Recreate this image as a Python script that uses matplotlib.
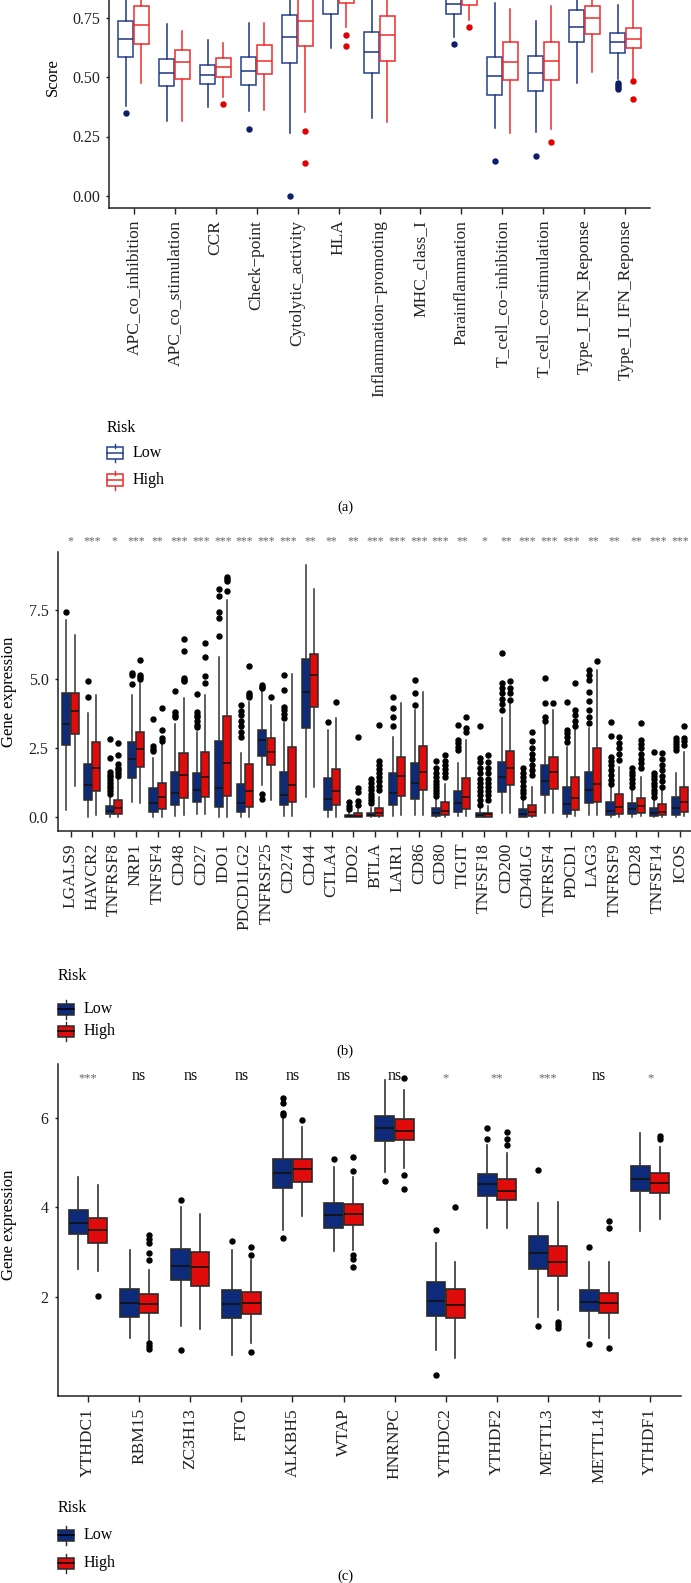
import matplotlib
matplotlib.use("Agg")
import matplotlib.pyplot as plt
from matplotlib.patches import Rectangle
from matplotlib.lines import Line2D

plt.rcParams['font.family'] = ['Liberation Serif', 'DejaVu Serif']

W, H = 691, 1583

# ---------------- panel (a): immune function scores ----------------
a_cats = ["APC_co_inhibition", "APC_co_stimulation", "CCR", "Check\u2212point",
          "Cytolytic_activity", "HLA", "Inflammation\u2212promoting", "MHC_class_I",
          "Parainflammation", "T_cell_co\u2212inhibition", "T_cell_co\u2212stimulation",
          "Type_I_IFN_Reponse", "Type_II_IFN_Reponse"]
a_low_whislo = [0.378, 0.315, 0.373, 0.358, 0.263, 0.620, 0.326, 0.86, 0.669, 0.287, 0.268, 0.476, 0.492]
a_low_q1 = [0.583, 0.462, 0.469, 0.466, 0.560, 0.765, 0.516, 0.91, 0.763, 0.426, 0.441, 0.647, 0.599]
a_low_med = [0.661, 0.518, 0.510, 0.527, 0.669, 0.850, 0.606, 0.94, 0.807, 0.504, 0.518, 0.709, 0.646]
a_low_q3 = [0.737, 0.574, 0.550, 0.585, 0.760, 0.900, 0.688, 0.96, 0.850, 0.583, 0.588, 0.782, 0.683]
a_low_whishi = [0.950, 0.721, 0.655, 0.726, 1.000, 0.990, 0.930, 0.99, 0.950, 0.810, 0.737, 0.970, 0.802]
a_low_fliers = [[0.35], [], [], [0.28], [0.0], [], [], [], [0.639], [0.147], [0.169], [],
                [0.474, 0.465, 0.458, 0.45]]
a_high_whislo = [0.476, 0.315, 0.417, 0.361, 0.354, 0.711, 0.312, 0.87, 0.739, 0.263, 0.280, 0.522, 0.494]
a_high_q1 = [0.637, 0.490, 0.501, 0.511, 0.631, 0.810, 0.569, 0.92, 0.803, 0.487, 0.487, 0.681, 0.620]
a_high_med = [0.720, 0.563, 0.543, 0.567, 0.737, 0.880, 0.678, 0.95, 0.850, 0.564, 0.567, 0.747, 0.661]
a_high_q3 = [0.800, 0.613, 0.579, 0.634, 0.850, 0.930, 0.758, 0.97, 0.890, 0.648, 0.646, 0.800, 0.707]
a_high_whishi = [0.980, 0.693, 0.641, 0.726, 1.000, 1.000, 0.980, 1.00, 0.970, 0.784, 0.800, 0.950, 0.860]
a_high_fliers = [[], [], [0.385], [], [0.272, 0.139], [0.676, 0.631], [], [], [0.711], [],
                 [0.227], [], [0.484, 0.408]]

# ---------------- panel (b): immune checkpoint genes ----------------
b_genes = ["LGALS9", "HAVCR2", "TNFRSF8", "NRP1", "TNFSF4", "CD48", "CD27", "IDO1",
           "PDCD1LG2", "TNFRSF25", "CD274", "CD44", "CTLA4", "IDO2", "BTLA", "LAIR1",
           "CD86", "CD80", "TIGIT", "TNFSF18", "CD200", "CD40LG", "TNFRSF4", "PDCD1",
           "LAG3", "TNFRSF9", "CD28", "TNFSF14", "ICOS"]
b_signif = ["*", "***", "*", "***", "**", "***", "***", "***", "***", "***", "***", "**",
            "**", "**", "***", "***", "***", "***", "**", "*", "**", "***", "***", "***",
            "**", "**", "**", "***", "***"]
b_low_whislo = [0.27, 0.02, 0.02, 0.57, 0.02, 0.05, 0.12, 0.02, 0.02, 1.16, 0.05, 0.72, 0.02, 0.0,
                0.0, 0.05, 0.08, 0.0, 0.05, 0.0, 0.15, 0.0, 0.15, 0.02, 0.08, 0.0, 0.02, 0.0, 0.02]
b_low_q1 = [2.62, 0.63, 0.12, 1.41, 0.20, 0.45, 0.56, 0.39, 0.20, 2.23, 0.45, 3.25, 0.27, 0.01,
            0.04, 0.45, 0.68, 0.05, 0.20, 0.02, 0.91, 0.02, 0.81, 0.12, 0.51, 0.08, 0.11, 0.05, 0.10]
b_low_med = [3.38, 1.17, 0.23, 2.10, 0.50, 0.87, 0.99, 1.07, 0.53, 2.80, 0.81, 4.55, 0.68, 0.03,
             0.10, 0.87, 1.26, 0.17, 0.53, 0.08, 1.45, 0.12, 1.33, 0.47, 0.99, 0.24, 0.29, 0.17, 0.33]
b_low_q3 = [4.52, 1.93, 0.42, 2.74, 1.07, 1.65, 1.62, 2.77, 1.21, 3.16, 1.65, 5.72, 1.44, 0.10,
            0.17, 1.59, 1.98, 0.35, 0.95, 0.14, 2.02, 0.29, 1.90, 1.11, 1.63, 0.54, 0.51, 0.33, 0.72]
b_low_whishi = [7.15, 3.79, 0.75, 4.43, 2.14, 3.37, 3.10, 5.82, 2.34, 4.61, 3.41, 9.14, 3.16, 0.20,
                0.35, 2.90, 3.89, 0.70, 1.96, 0.30, 3.61, 0.65, 3.37, 2.54, 3.22, 1.10, 1.05, 0.70, 1.60]
b_low_fliers = [[7.42], [4.34, 4.92],
                [0.85, 0.95, 1.05, 1.15, 1.25, 1.35, 1.45, 1.55, 1.65, 2.14, 2.83],
                [4.82, 5.15, 5.24], [2.40, 2.48, 2.58, 3.55], [3.62, 3.70, 3.83, 4.58],
                [3.28, 3.35, 3.50, 3.62, 3.72, 3.83, 4.46], [6.57, 7.21, 7.42, 8.02, 8.26],
                [2.92, 3.10, 3.30, 3.50, 3.70, 3.85, 4.07], [4.67, 4.73, 4.80, 0.85, 0.65],
                [3.59, 3.75, 3.90, 4.00, 4.61, 5.16], [], [3.44], [0.30, 0.42, 0.55],
                [0.50, 0.62, 0.74, 0.86, 0.98, 1.10, 1.25, 1.40], [3.32, 3.65, 3.95, 4.34],
                [4.07, 4.49, 4.98],
                [0.78, 0.88, 0.98, 1.08, 1.20, 1.32, 1.45, 1.60, 1.80, 2.05],
                [2.44, 2.56, 2.68, 2.80, 3.35],
                [0.45, 0.63, 0.80, 0.95, 1.10, 1.25, 1.40, 1.60, 1.80, 2.00, 2.14, 3.29],
                [3.89, 4.10, 4.30, 4.50, 4.70, 4.86, 5.94],
                [0.75, 0.88, 1.00, 1.15, 1.30, 1.45, 1.60, 1.80], [3.50, 3.65, 4.15, 5.04],
                [2.72, 2.90, 3.05, 3.16, 4.17], [3.41, 3.65, 3.89, 4.20, 4.55, 4.98, 5.16, 5.34],
                [1.20, 1.35, 1.53, 1.70, 1.90, 2.05, 2.20, 2.96, 3.47],
                [1.11, 1.25, 1.40, 1.55, 1.65, 1.78],
                [0.75, 0.88, 1.00, 1.12, 1.25, 1.38, 1.50, 1.59, 2.38],
                [2.44, 2.55, 2.65, 2.75, 2.86]]
b_high_whislo = [1.13, 0.08, 0.02, 0.50, 0.02, 0.08, 0.12, 0.02, 0.02, 0.63, 0.05, 1.09, 0.02, 0.0,
                 0.0, 0.08, 0.08, 0.0, 0.05, 0.0, 0.15, 0.0, 0.17, 0.05, 0.08, 0.02, 0.05, 0.0, 0.05]
b_high_q1 = [3.02, 0.95, 0.12, 1.84, 0.30, 0.69, 0.75, 0.77, 0.36, 1.90, 0.57, 3.99, 0.45, 0.02,
             0.05, 0.77, 0.99, 0.08, 0.30, 0.02, 1.17, 0.06, 1.01, 0.27, 0.57, 0.12, 0.17, 0.07, 0.18]
b_high_med = [3.84, 1.80, 0.35, 2.46, 0.72, 1.53, 1.45, 1.98, 0.97, 2.37, 1.16, 5.17, 0.97, 0.05,
              0.14, 1.51, 1.65, 0.23, 0.72, 0.12, 1.78, 0.20, 1.64, 0.69, 1.21, 0.36, 0.42, 0.19, 0.54]
b_high_q3 = [4.52, 2.74, 0.63, 3.10, 1.23, 2.32, 2.38, 3.68, 1.93, 2.86, 2.56, 5.92, 1.74, 0.14,
             0.35, 2.20, 2.58, 0.54, 1.41, 0.17, 2.40, 0.45, 2.20, 1.47, 2.50, 0.83, 0.69, 0.47, 1.09]
b_high_whishi = [6.60, 4.43, 1.40, 4.86, 2.70, 4.31, 4.43, 7.87, 4.19, 4.07, 5.18, 8.27, 3.59, 0.30,
                 0.75, 4.15, 4.55, 1.20, 2.80, 0.40, 4.20, 1.10, 3.89, 3.22, 5.34, 1.84, 1.45, 1.00, 2.38]
b_high_fliers = [[], [], [1.50, 1.60, 1.70, 1.80, 1.93, 2.26, 2.68], [5.00, 5.10, 5.16, 5.70],
                 [2.78, 2.86, 3.16, 3.95], [4.92, 4.98, 5.04, 6.03, 6.45], [4.86, 5.12, 5.82, 6.30],
                 [8.21, 8.55, 8.65, 8.72], [4.37, 4.43, 4.49, 5.48], [4.35], [], [], [4.19],
                 [0.45, 0.60, 0.90, 1.05, 2.90],
                 [0.99, 1.15, 1.30, 1.45, 1.60, 1.75, 1.90, 2.05, 3.35], [], [],
                 [1.47, 1.60, 1.75, 1.90, 2.05, 2.26], [3.10, 3.22, 3.65],
                 [0.63, 0.80, 0.95, 1.10, 1.25, 1.40, 1.60, 1.80, 2.00, 2.26],
                 [4.25, 4.50, 4.70, 4.92], [1.53, 1.70, 1.90, 2.10, 2.30, 2.50, 2.75, 3.10],
                 [4.15], [3.31, 3.50, 3.70, 3.89, 4.88], [5.68], [2.08, 2.30, 2.50, 2.70, 2.92],
                 [1.78, 1.95, 2.10, 2.30, 2.50, 2.65, 2.80, 3.41],
                 [1.11, 1.30, 1.50, 1.70, 1.90, 2.10, 2.32], [2.62, 2.75, 2.86, 3.29]]

# ---------------- panel (c): m6A regulators ----------------
c_genes = ["YTHDC1", "RBM15", "ZC3H13", "FTO", "ALKBH5", "WTAP", "HNRNPC", "YTHDC2",
           "YTHDF2", "METTL3", "METTL14", "YTHDF1"]
c_signif = ["***", "ns", "ns", "ns", "ns", "ns", "ns", "*", "**", "***", "ns", "*"]
c_low_whislo = [2.63, 1.09, 1.37, 0.71, 3.50, 3.04, 4.80, 0.83, 3.54, 1.57, 1.09, 3.48]
c_low_q1 = [3.40, 1.57, 2.38, 1.55, 4.44, 3.55, 5.49, 1.59, 4.26, 2.63, 1.70, 4.37]
c_low_med = [3.66, 1.88, 2.70, 1.84, 4.76, 3.83, 5.76, 1.92, 4.52, 2.98, 1.90, 4.63]
c_low_q3 = [3.94, 2.18, 3.07, 2.16, 5.09, 4.11, 6.04, 2.33, 4.75, 3.37, 2.16, 4.93]
c_low_whishi = [4.67, 3.05, 4.02, 3.05, 5.99, 4.91, 6.84, 3.22, 5.39, 4.11, 2.79, 5.67]
c_low_fliers = [[], [], [4.17, 0.83], [3.25], [6.43, 6.32, 6.10, 6.06, 3.33], [5.08],
                [4.59], [3.51, 0.28], [5.78, 5.52], [4.83, 1.37], [3.11, 0.97], []]
c_high_whislo = [2.58, 1.05, 1.29, 0.99, 3.81, 3.05, 4.87, 0.64, 3.55, 1.72, 1.09, 3.74]
c_high_q1 = [3.22, 1.64, 2.26, 1.62, 4.57, 3.62, 5.50, 1.53, 4.17, 2.47, 1.64, 4.33]
c_high_med = [3.50, 1.84, 2.68, 1.88, 4.85, 3.85, 5.71, 1.83, 4.37, 2.79, 1.88, 4.54]
c_high_q3 = [3.77, 2.07, 3.02, 2.12, 5.09, 4.07, 5.97, 2.18, 4.63, 3.14, 2.10, 4.76]
c_high_whishi = [4.50, 2.61, 3.85, 2.83, 5.80, 4.69, 6.62, 2.79, 5.21, 4.13, 2.78, 5.34]
c_high_fliers = [[2.04], [3.39, 3.30, 3.22, 2.99, 2.83, 0.99, 0.92, 0.85], [], [3.13, 2.94, 0.79],
                 [5.95], [5.13, 4.81, 2.94, 2.85, 2.68], [6.88, 4.72, 4.41], [4.00],
                 [5.69, 5.52, 5.39], [1.46, 1.38, 1.31], [3.71, 3.54, 0.88], [5.59, 5.52]]


def make_stats(whislo, q1, med, q3, whishi, fliers):
    return [dict(whislo=a, q1=b, med=c, q3=d, whishi=e, fliers=f)
            for a, b, c, d, e, f in zip(whislo, q1, med, q3, whishi, fliers)]


def ax_rect(left_px, right_px, bottom_px, top_px):
    return [left_px / W, 1 - bottom_px / H, (right_px - left_px) / W, (bottom_px - top_px) / H]


def style_axis(ax, xlabels, xfs, yfs):
    for s in ("top", "right"):
        ax.spines[s].set_visible(False)
    for s in ("left", "bottom"):
        ax.spines[s].set_linewidth(1.1)
        ax.spines[s].set_color("#222222")
    ax.set_xticks(range(1, len(xlabels) + 1))
    ax.set_xticklabels(xlabels, rotation=90, fontsize=xfs, va="top", ha="center")
    ax.tick_params(axis="x", length=4.5, width=1.0, pad=4, colors="#222222")
    ax.tick_params(axis="y", length=2.5, width=1.0, pad=4, labelsize=yfs, colors="#222222")


def draw_boxes(ax, stats, pos, face, edge, whisk, med_c, flier_c, lw):
    ax.bxp(stats, positions=pos, widths=0.37, patch_artist=True, showcaps=False,
           boxprops=dict(facecolor=face, edgecolor=edge, linewidth=lw),
           medianprops=dict(color=med_c, linewidth=lw),
           whiskerprops=dict(color=whisk, linewidth=lw),
           flierprops=dict(marker="o", markerfacecolor=flier_c, markeredgecolor=flier_c,
                           markersize=3.6, linestyle="none"))


def legend(fig, x, y_title, y_low, y_high, low_face, low_edge, high_face, high_edge, med_low, med_high):
    fig.text(x / W, 1 - y_title / H, "Risk", fontsize=11.5, ha="left", va="center")
    for yy, face, edge, mc, lab in ((y_low, low_face, low_edge, med_low, "Low"),
                                    (y_high, high_face, high_edge, med_high, "High")):
        bw, bh = 16, 11
        fig.add_artist(Rectangle((x / W, 1 - (yy + bh / 2) / H), bw / W, bh / H,
                                 transform=fig.transFigure, facecolor=face, edgecolor=edge, lw=1.1))
        fig.add_artist(Line2D([x / W, (x + bw) / W], [1 - yy / H, 1 - yy / H],
                              transform=fig.transFigure, color=mc, lw=1.1))
        cx = (x + bw / 2) / W
        fig.add_artist(Line2D([cx, cx], [1 - (yy - bh / 2) / H, 1 - (yy - bh / 2 - 4) / H],
                              transform=fig.transFigure, color=edge, lw=1.0))
        fig.add_artist(Line2D([cx, cx], [1 - (yy + bh / 2) / H, 1 - (yy + bh / 2 + 4) / H],
                              transform=fig.transFigure, color=edge, lw=1.0))
        fig.text((x + bw + 10) / W, 1 - yy / H, lab, fontsize=11.5, ha="left", va="center")


fig = plt.figure(figsize=(W / 100, H / 100), dpi=100)

# ----- (a) -----
axa = fig.add_axes(ax_rect(109, 650, 207.9, -53.9))
na = len(a_cats)
pos = list(range(1, na + 1))
draw_boxes(axa, make_stats(a_low_whislo, a_low_q1, a_low_med, a_low_q3, a_low_whishi, a_low_fliers),
           [p - 0.19 for p in pos], "white", "#24408E", "#1E3580", "#1E3580", "#0D1E66", 1.1)
draw_boxes(axa, make_stats(a_high_whislo, a_high_q1, a_high_med, a_high_q3, a_high_whishi, a_high_fliers),
           [p + 0.19 for p in pos], "white", "#EE2B2B", "#EE2B2B", "#EE2B2B", "#E00000", 1.1)
axa.set_xlim(0.4, na + 0.6)
axa.set_ylim(-0.05, 1.05)
axa.set_yticks([0.0, 0.25, 0.5, 0.75])
axa.set_yticklabels(["0.00", "0.25", "0.50", "0.75"])
style_axis(axa, a_cats, 12.5, 11.5)
fig.text(53 / W, 1 - 77.5 / H, "Score", rotation=90, fontsize=12, ha="center", va="center")
legend(fig, 107, 428, 453, 480, "white", "#24408E", "white", "#EE2B2B", "#24408E", "#EE2B2B")
fig.text(345 / W, 1 - 507 / H, "(a)", fontsize=10.5, ha="center", va="center")

# ----- (b) -----
axb = fig.add_axes(ax_rect(57.5, 693, 831.1, 552.3))
nb = len(b_genes)
pos = list(range(1, nb + 1))
draw_boxes(axb, make_stats(b_low_whislo, b_low_q1, b_low_med, b_low_q3, b_low_whishi, b_low_fliers),
           [p - 0.19 for p in pos], "#0E2A7B", "#2A2A2A", "#333333", "#111111", "black", 1.1)
draw_boxes(axb, make_stats(b_high_whislo, b_high_q1, b_high_med, b_high_q3, b_high_whishi, b_high_fliers),
           [p + 0.19 for p in pos], "#E00B0B", "#2A2A2A", "#333333", "#111111", "black", 1.1)
axb.set_xlim(0.4, nb + 0.6)
axb.set_ylim(-0.5, 9.6)
axb.set_yticks([0.0, 2.5, 5.0, 7.5])
axb.set_yticklabels(["0.0", "2.5", "5.0", "7.5"])
style_axis(axb, b_genes, 12.5, 11.5)
for i, s in enumerate(b_signif):
    axb.text(i + 1, 9.98, s, ha="center", va="center", fontsize=8.5, color="#666666", clip_on=False)
fig.text(9.5 / W, 1 - 692 / H, "Gene expression", rotation=90, fontsize=12, ha="center", va="center")
legend(fig, 57.5, 976, 1009, 1031, "#0E2A7B", "#2A2A2A", "#E00B0B", "#2A2A2A", "black", "black")
fig.text(345 / W, 1 - 1051 / H, "(b)", fontsize=10.5, ha="center", va="center")

# ----- (c) -----
axc = fig.add_axes(ax_rect(57.5, 680.7, 1396.1, 1063.8))
nc = len(c_genes)
pos = list(range(1, nc + 1))
draw_boxes(axc, make_stats(c_low_whislo, c_low_q1, c_low_med, c_low_q3, c_low_whishi, c_low_fliers),
           [p - 0.19 for p in pos], "#0E2A7B", "#2A2A2A", "#333333", "#111111", "black", 1.2)
draw_boxes(axc, make_stats(c_high_whislo, c_high_q1, c_high_med, c_high_q3, c_high_whishi, c_high_fliers),
           [p + 0.19 for p in pos], "#E00B0B", "#2A2A2A", "#333333", "#111111", "black", 1.2)
axc.set_xlim(0.4, nc + 0.6)
axc.set_ylim(-0.2, 7.2)
axc.set_yticks([2, 4, 6])
style_axis(axc, c_genes, 12.5, 11.5)
for i, s in enumerate(c_signif):
    if s == "ns":
        axc.text(i + 1, 6.93, s, ha="center", va="center", fontsize=11.5, color="#111111")
    else:
        axc.text(i + 1, 6.88, s, ha="center", va="center", fontsize=9, color="#666666")
fig.text(9.5 / W, 1 - 1225 / H, "Gene expression", rotation=90, fontsize=12, ha="center", va="center")
legend(fig, 57.5, 1508, 1535, 1563, "#0E2A7B", "#2A2A2A", "#E00B0B", "#2A2A2A", "black", "black")
fig.text(345 / W, 1 - 1576 / H, "(c)", fontsize=10.5, ha="center", va="center")

fig.savefig("out.png", dpi=100)
